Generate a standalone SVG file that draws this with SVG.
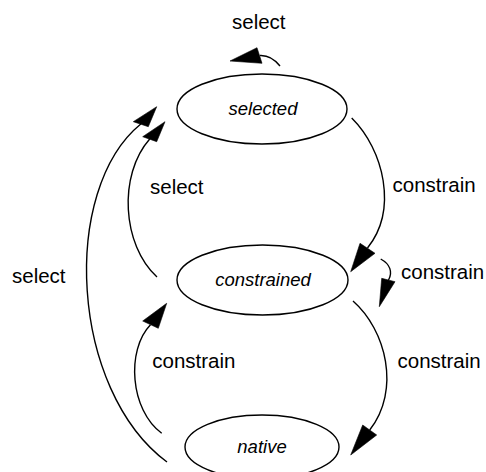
<svg xmlns="http://www.w3.org/2000/svg" width="486" height="472" viewBox="0 0 486 472">
  <style>
    .node ellipse { fill: #fff; stroke: #000; stroke-width: 1.4; }
    .node text { font-family: "Liberation Sans", Arial, sans-serif; font-style: italic; font-size: 18.5px; fill: #000; text-anchor: middle; }
    .edge { fill: none; stroke: #000; stroke-width: 1.4; }
    .head { fill: #000; stroke: #000; stroke-width: 0.6; stroke-linejoin: miter; }
    .label { font-family: "Liberation Sans", Arial, sans-serif; font-size: 20.5px; fill: #000; }
  </style>
  <rect width="486" height="472" fill="#fff"/>

  <!-- state nodes -->
  <g id="selected" class="node">
    <ellipse cx="262" cy="109" rx="85" ry="35"/>
    <text x="263" y="115">selected</text>
  </g>
  <g id="constrained" class="node">
    <ellipse cx="262.5" cy="280" rx="85.5" ry="35"/>
    <text x="263" y="286">constrained</text>
  </g>
  <g id="native" class="node">
    <ellipse cx="262" cy="447" rx="77" ry="32"/>
    <text x="262" y="453">native</text>
  </g>

  <!-- transitions -->
  <g id="connectors">
    <!-- selected -> selected -->
    <path class="edge" d="M 280 66 C 276 61 270 55 260 55.5"/>
    <polygon class="head" points="230,61 257,47.7 262,63.3"/>
    <text class="label" x="232" y="29">select</text>

    <!-- selected -> constrained -->
    <path class="edge" d="M 351.7 118 C 384 150 398 210 367.5 248"/>
    <polygon class="head" points="350.7,271.7 360,243.3 375,253.3"/>
    <text class="label" x="392.5" y="192">constrain</text>

    <!-- constrained -> constrained -->
    <path class="edge" d="M 380.7 259 C 390 264 393 272 388.5 280"/>
    <polygon class="head" points="379.3,306.7 381.7,278.3 395,281.7"/>
    <text class="label" x="401" y="279">constrain</text>

    <!-- constrained -> native -->
    <path class="edge" d="M 353 301 C 386 330 401 390 369.7 430"/>
    <polygon class="head" points="350.7,455 362.7,425 376.7,435"/>
    <text class="label" x="397.5" y="368">constrain</text>

    <!-- constrained -> selected -->
    <path class="edge" d="M 157 277 C 122 245 118 175 149.7 139"/>
    <polygon class="head" points="165,121.7 142.7,136.7 156.7,141.7"/>
    <text class="label" x="150" y="194">select</text>

    <!-- native -> selected -->
    <path class="edge" d="M 167 462 C 70 390 60 190 140.8 124"/>
    <polygon class="head" points="156.7,106.7 133.3,121.7 148.3,126.7"/>
    <text class="label" x="12" y="283">select</text>

    <!-- native -> constrained -->
    <path class="edge" d="M 161.7 433.3 C 130 410 126 350 150.5 324.7"/>
    <polygon class="head" points="166.7,303.3 142.7,321 158.3,328.3"/>
    <text class="label" x="152.3" y="368">constrain</text>
  </g>
</svg>
